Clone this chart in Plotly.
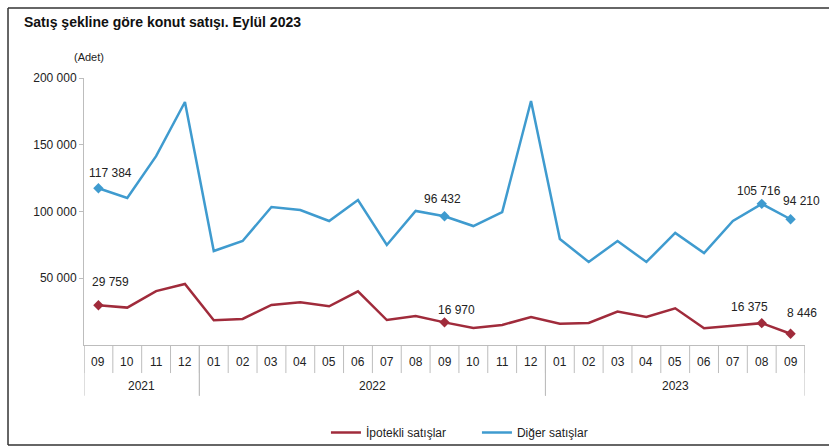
import plotly.graph_objects as go

months = ["09", "10", "11", "12",
          "01", "02", "03", "04", "05", "06", "07", "08", "09", "10", "11", "12",
          "01", "02", "03", "04", "05", "06", "07", "08", "09"]
years = ["2021"] * 4 + ["2022"] * 12 + ["2023"] * 9

ipotekli = [29759, 28000, 40400, 45700,
            18500, 19500, 30000, 32000, 29000, 40200, 18700, 21700, 16970, 12700, 15000, 21000,
            16000, 16500, 25000, 21000, 27500, 12500, 14500, 16375, 8446]
diger = [117384, 110100, 141500, 182000,
         70400, 77900, 103400, 101100, 92900, 108600, 74900, 100400, 96432, 89100, 99600, 182800,
         79400, 62200, 77900, 62200, 83900, 68900, 92900, 105716, 94210]

label_idx = [0, 12, 23, 24]
# label offsets (px) relative to the marked point
ipotekli_shift = [(12, 23), (12, 12), (-12, 16), (11, 21)]
diger_shift = [(12, 15), (-2, 17), (-3, 13), (11, 18)]

RED = "#A02B3B"
BLUE = "#3F9BCF"
GRID = "#bdbdbd"
FONT = "Liberation Sans, Arial, sans-serif"


def fmt(v):
    return f"{v:,}".replace(",", " ")


xs = list(range(len(months)))
fig = go.Figure()
fig.add_trace(go.Scatter(x=xs, y=ipotekli, mode="lines", name="İpotekli satışlar",
                         line=dict(color=RED, width=2.5)))
fig.add_trace(go.Scatter(x=xs, y=diger, mode="lines", name="Diğer satışlar",
                         line=dict(color=BLUE, width=2.5)))
fig.add_trace(go.Scatter(x=[xs[i] for i in label_idx], y=[ipotekli[i] for i in label_idx],
                         mode="markers", marker=dict(symbol="diamond", size=8, color=RED),
                         showlegend=False, hoverinfo="skip", cliponaxis=False))
fig.add_trace(go.Scatter(x=[xs[i] for i in label_idx], y=[diger[i] for i in label_idx],
                         mode="markers", marker=dict(symbol="diamond", size=8, color=BLUE),
                         showlegend=False, hoverinfo="skip", cliponaxis=False))

shapes = []
annotations = []
for series, shifts in ((ipotekli, ipotekli_shift), (diger, diger_shift)):
    for i, (dx, dy) in zip(label_idx, shifts):
        annotations.append(dict(text=fmt(series[i]), x=xs[i], y=series[i], xref="x", yref="y",
                                showarrow=False, xshift=dx, yshift=dy, yanchor="middle",
                                font=dict(size=12, color="#222")))

# x-axis category grid (month cells and year groups)
for i in range(len(months) + 1):
    shapes.append(dict(type="line", xref="x", yref="paper", x0=i - 0.5, x1=i - 0.5,
                       y0=0, y1=-0.105, line=dict(color=GRID, width=1)))
for i, m in enumerate(months):
    annotations.append(dict(text=m, xref="x", yref="paper", x=xs[i], y=-0.062,
                            showarrow=False, yanchor="middle", font=dict(size=12, color="#222")))
groups = []
for i, yv in enumerate(years):
    if not groups or groups[-1][0] != yv:
        groups.append([yv, i, i])
    else:
        groups[-1][2] = i
for yv, a, b in groups:
    annotations.append(dict(text=yv, xref="x", yref="paper", x=(a + b) / 2, y=-0.152,
                            showarrow=False, yanchor="middle", font=dict(size=12, color="#222")))
    for edge in (a - 0.5, b + 0.5):
        shapes.append(dict(type="line", xref="x", yref="paper", x0=edge, x1=edge,
                           y0=0, y1=-0.19, line=dict(color=GRID, width=1)))

annotations.append(dict(text="<b>Satış şekline göre konut satışı. Eylül 2023</b>",
                        xref="paper", yref="paper", x=-0.086, y=1.21, xanchor="left",
                        yanchor="middle", showarrow=False, font=dict(size=14, color="#111")))
annotations.append(dict(text="(Adet)", xref="paper", yref="paper", x=-0.017, y=1.109,
                        showarrow=False, font=dict(size=11, color="#222")))
for (x0, y0, x1, y1) in [(-0.1054, -0.3745, -0.1054, 1.262),
                         (-0.1054, 1.262, 1.05, 1.262),
                         (-0.1054, -0.3745, 1.05, -0.3745)]:
    shapes.append(dict(type="line", xref="paper", yref="paper", x0=x0, y0=y0, x1=x1, y1=y1,
                       line=dict(color="#333", width=1.5)))

fig.update_layout(
    width=829, height=447,
    margin=dict(l=84, r=24, t=78, b=102),
    paper_bgcolor="white", plot_bgcolor="white",
    font=dict(family=FONT, size=12, color="#222"),
    separators=", ",
    showlegend=True,
    legend=dict(orientation="h", x=0.545, xref="paper", y=-0.012, yref="container",
                xanchor="center", yanchor="bottom", entrywidth=106, entrywidthmode="pixels",
                font=dict(size=12), bgcolor="rgba(0,0,0,0)"),
    annotations=annotations,
    shapes=shapes,
)
fig.update_xaxes(range=[-0.5, len(months) - 0.5], showticklabels=False, ticks="",
                 showline=True, linecolor=GRID, linewidth=1, showgrid=False,
                 zeroline=False, automargin=False)
fig.update_yaxes(range=[0, 200000], tickvals=[50000, 100000, 150000, 200000],
                 tickformat=",d", showgrid=False, showline=True, linecolor=GRID,
                 ticks="outside", ticklen=4, tickcolor=GRID, zeroline=False,
                 tickfont=dict(size=12), automargin=False)

fig.write_html("out.html", config={"displayModeBar": False},
               post_script="document.body.style.margin='0px';")
